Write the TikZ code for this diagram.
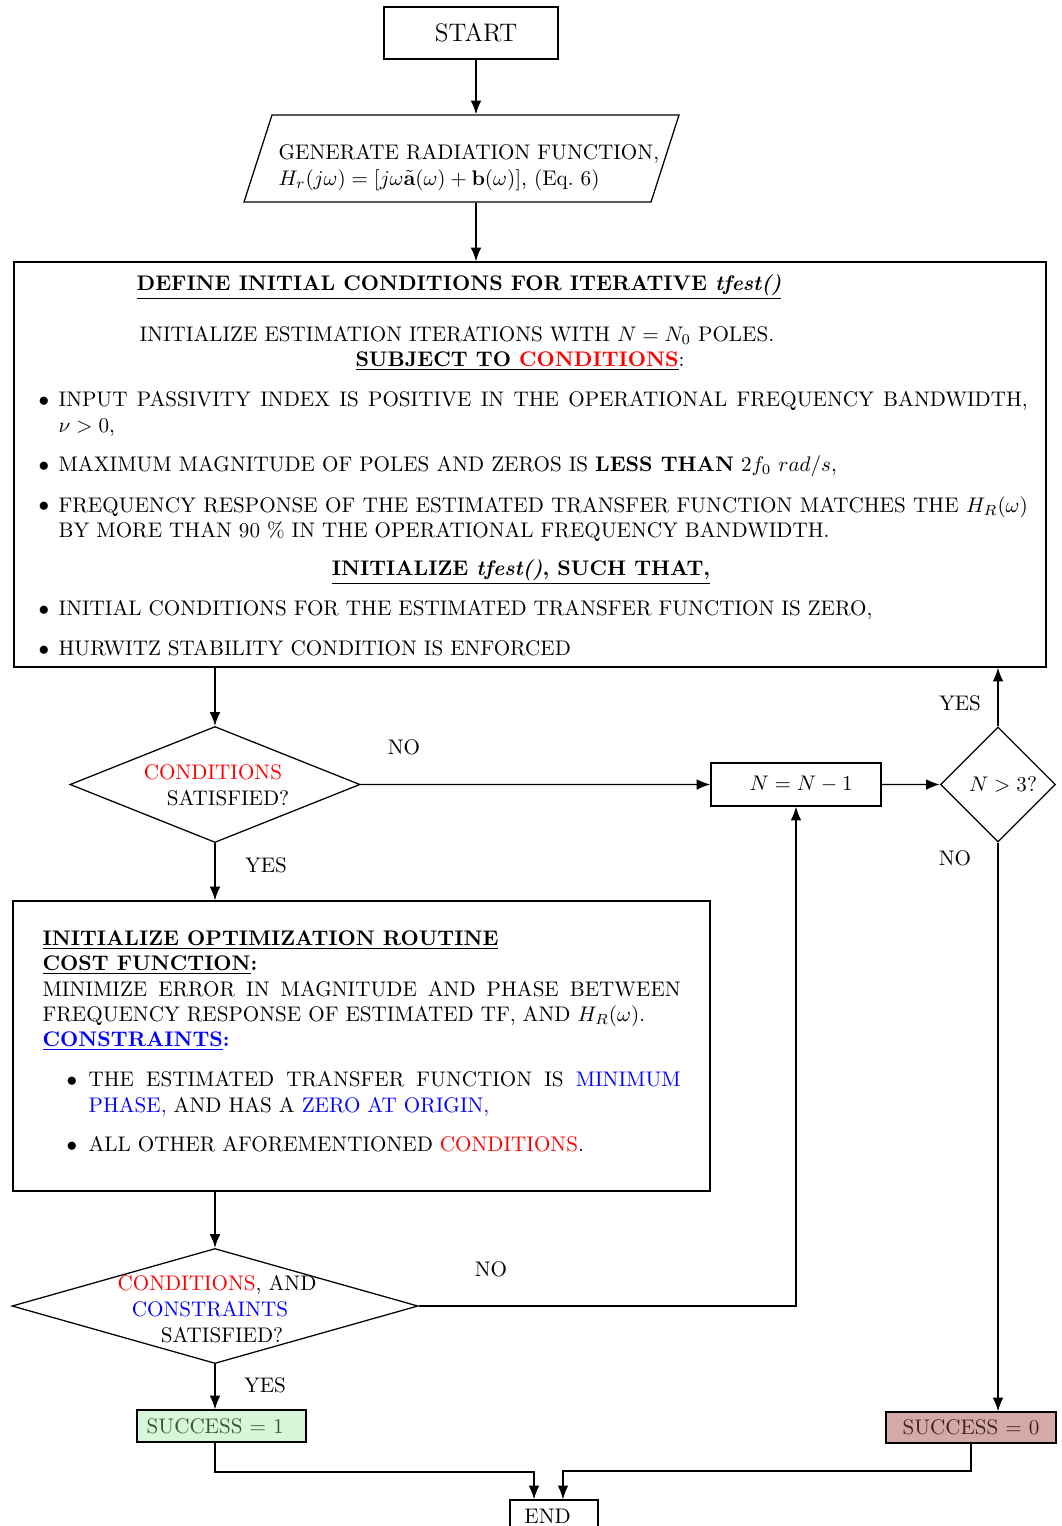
\documentclass[tikz,border=0pt]{standalone}
\usepackage{amsmath, amssymb}
\usepackage{tikz}
\usetikzlibrary{fit, shapes.geometric, arrows.meta}

\definecolor{passfill}{HTML}{D9F6D9}
\definecolor{failfill}{HTML}{D6A9A9}
\definecolor{passtext}{HTML}{3A553A}
\definecolor{failtext}{HTML}{3D2424}
\hyphenpenalty=10000

\tikzset{
 box/.style={draw, semithick, inner sep=0pt},
 decision/.style={draw, semithick, diamond, inner sep=0pt},
 txt/.style={inner sep=0pt},
 para/.style={inner sep=0pt, anchor=north west, align=justify},
}

\begin{document}
\begin{tikzpicture}[x=0.01665cm, y=-0.01665cm, >={Latex[length=6.5pt,width=5pt]}, semithick]
 \useasboundingbox (0,0) rectangle (1062,1526);
 \coordinate (spine) at (476,0);

 \node[box, fit={(384,7) (558,59)}, label={[xshift=2.4pt]center:{\large START}}] (start) {};
 \node[inner sep=0pt, fit={(244,115) (679,202)}] (gen) {};
 \draw (244,202) -- (272,115) -- (679,115) -- (651,202) -- cycle;
 \node[txt, anchor=base west, align=left] (gentxt) at (278,185)
   {GENERATE RADIATION FUNCTION,\\ $H_r(j\omega)=[j\omega\tilde{\mathbf{a}}(\omega)+\mathbf{b}(\omega)]$, (Eq.~6)};

 % initial conditions
 \node[box, fit={(14,262) (1046,667)}] (init) {};
 \node[txt, anchor=base west] (t1) at (136,290)
   {\textbf{\underline{DEFINE INITIAL CONDITIONS FOR ITERATIVE \textit{tfest()}}}};
 \node[txt, anchor=base west] (t2) at (139,341) {INITIALIZE ESTIMATION ITERATIONS WITH $N=N_0$ POLES.};
 \node[txt, anchor=base] (t3) at (520,366) {\textbf{\underline{SUBJECT TO \textcolor{red}{CONDITIONS}}}:};
 \node[txt, anchor=base] (b1) at (44,406) {$\bullet$};
 \node[para, text width=16.134cm] (c1) at (58,391)
   {INPUT PASSIVITY INDEX IS POSITIVE IN THE OPERATIONAL FREQUENCY BANDWIDTH,\linebreak $\nu>0$,};
 \node[txt, anchor=base] (b2) at (44,471) {$\bullet$};
 \node[txt, anchor=base west] (c2) at (58,471)
   {MAXIMUM MAGNITUDE OF POLES AND ZEROS IS \textbf{LESS THAN} $2f_0$ $rad/s$,};
 \node[txt, anchor=base] (b3) at (44,511) {$\bullet$};
 \node[para, text width=16.134cm] (c3) at (58,496)
   {FREQUENCY RESPONSE OF THE ESTIMATED TRANSFER FUNCTION MATCHES THE $H_R(\omega)$\linebreak
    BY MORE THAN 90 \% IN THE OPERATIONAL FREQUENCY BANDWIDTH.};
 \node[txt, anchor=base] (t4) at (521,575) {\textbf{\underline{INITIALIZE \textit{tfest()}, SUCH THAT,}}};
 \node[txt, anchor=base] (b4) at (44,615) {$\bullet$};
 \node[txt, anchor=base west] (c4) at (58,615) {INITIAL CONDITIONS FOR THE ESTIMATED TRANSFER FUNCTION IS ZERO,};
 \node[txt, anchor=base] (b5) at (44,655) {$\bullet$};
 \node[txt, anchor=base west] (c5) at (58,655) {HURWITZ STABILITY CONDITION IS ENFORCED};

 % first check
 \node[decision, minimum width=4.829cm, minimum height=1.931cm] (d1) at (215,784.5) {};
 \node[txt, anchor=base] (d1a) at (213,779) {\textcolor{red}{CONDITIONS}};
 \node[txt, anchor=base] (d1b) at (228,805) {SATISFIED?};
 \node[box, fit={(711,763) (881,806)}, label={[xshift=2.4pt]center:{$N=N-1$}}] (nbox) {};
 \node[decision, minimum width=1.915cm, minimum height=1.915cm] (d2) at (998,784.5) {};
 \node[txt] (d2a) at (1003,784) {$N>3$?};

 % optimization
 \node[box, fit={(13,901) (710,1191)}] (opt) {};
 \node[para, text width=10.623cm] (o1) at (42,930)
   {\textbf{\underline{INITIALIZE OPTIMIZATION ROUTINE}}\\
    \textbf{\underline{COST FUNCTION}:}\\
    MINIMIZE ERROR IN MAGNITUDE AND PHASE BETWEEN\linebreak
    FREQUENCY RESPONSE OF ESTIMATED TF, AND $H_R(\omega)$.\\
    \textcolor{blue}{\textbf{\underline{CONSTRAINTS}:}}};
 \node[txt, anchor=base] (ob1) at (72,1086) {$\bullet$};
 \node[para, text width=9.857cm] (o2) at (88,1071)
   {THE ESTIMATED TRANSFER FUNCTION IS \textcolor{blue}{MINIMUM}\linebreak
    \textcolor{blue}{PHASE,} AND HAS A \textcolor{blue}{ZERO AT ORIGIN,}};
 \node[txt, anchor=base] (ob2) at (72,1151) {$\bullet$};
 \node[txt, anchor=base west] (o3) at (88,1151) {ALL OTHER AFOREMENTIONED \textcolor{red}{CONDITIONS}.};

 % second check
 \node[decision, minimum width=6.760cm, minimum height=1.915cm] (d3) at (215,1306) {};
 \node[txt, anchor=base] (d3a) at (217,1290) {\textcolor{red}{CONDITIONS}, AND};
 \node[txt, anchor=base] (d3b) at (210,1316) {\textcolor{blue}{CONSTRAINTS}};
 \node[txt, anchor=base] (d3c) at (222,1342) {SATISFIED?};

 \node[box, fill=passfill, fit={(137,1410) (306,1442)}, label={[xshift=-3pt]center:{\textcolor{passtext}{SUCCESS $=$ 1}}}] (pass) {};
 \node[box, fill=failfill, fit={(886,1412) (1056,1443)}, label=center:{\textcolor{failtext}{SUCCESS $=$ 0}}] (fail) {};
 \node[box, fit={(510,1500) (598,1532)}, label={[xshift=-3pt]center:{END}}] (finish) {};
 \coordinate (joinL) at (534,1472);
 \coordinate (joinR) at (563,1471);

 \node (no1) at (404,747) {NO};
 \node (yes1) at (266,865) {YES};
 \node (yes2) at (960,703) {YES};
 \node (no2) at (955,858) {NO};
 \node (no3) at (491,1269) {NO};
 \node (yes3) at (265,1385) {YES};

 \draw[->] (start.south -| spine) -- (gen.north -| spine);
 \draw[->] (gen.south -| spine) -- (init.north -| spine);
 \draw[->] (init.south -| d1.north) -- (d1.north);
 \draw[->] (d1.east) -- (nbox.west);
 \draw[->] (nbox.east) -- (d2.west);
 \draw[->] (d2.north) -- (d2.north |- init.south);
 \draw[->] (d2.south) -- (d2.south |- fail.north);
 \draw[->] (d1.south) -- (d1.south |- opt.north);
 \draw[->] (opt.south -| d3.north) -- (d3.north);
 \draw[->] (d3.east) -| (nbox.south);
 \draw[->] (d3.south) -- (d3.south |- pass.north);
 \draw[->] (pass.south -| d3.south) |- (joinL) -- (joinL |- finish.north);
 \draw[->] (fail.south) |- (joinR) -- (joinR |- finish.north);
\end{tikzpicture}
\end{document}
